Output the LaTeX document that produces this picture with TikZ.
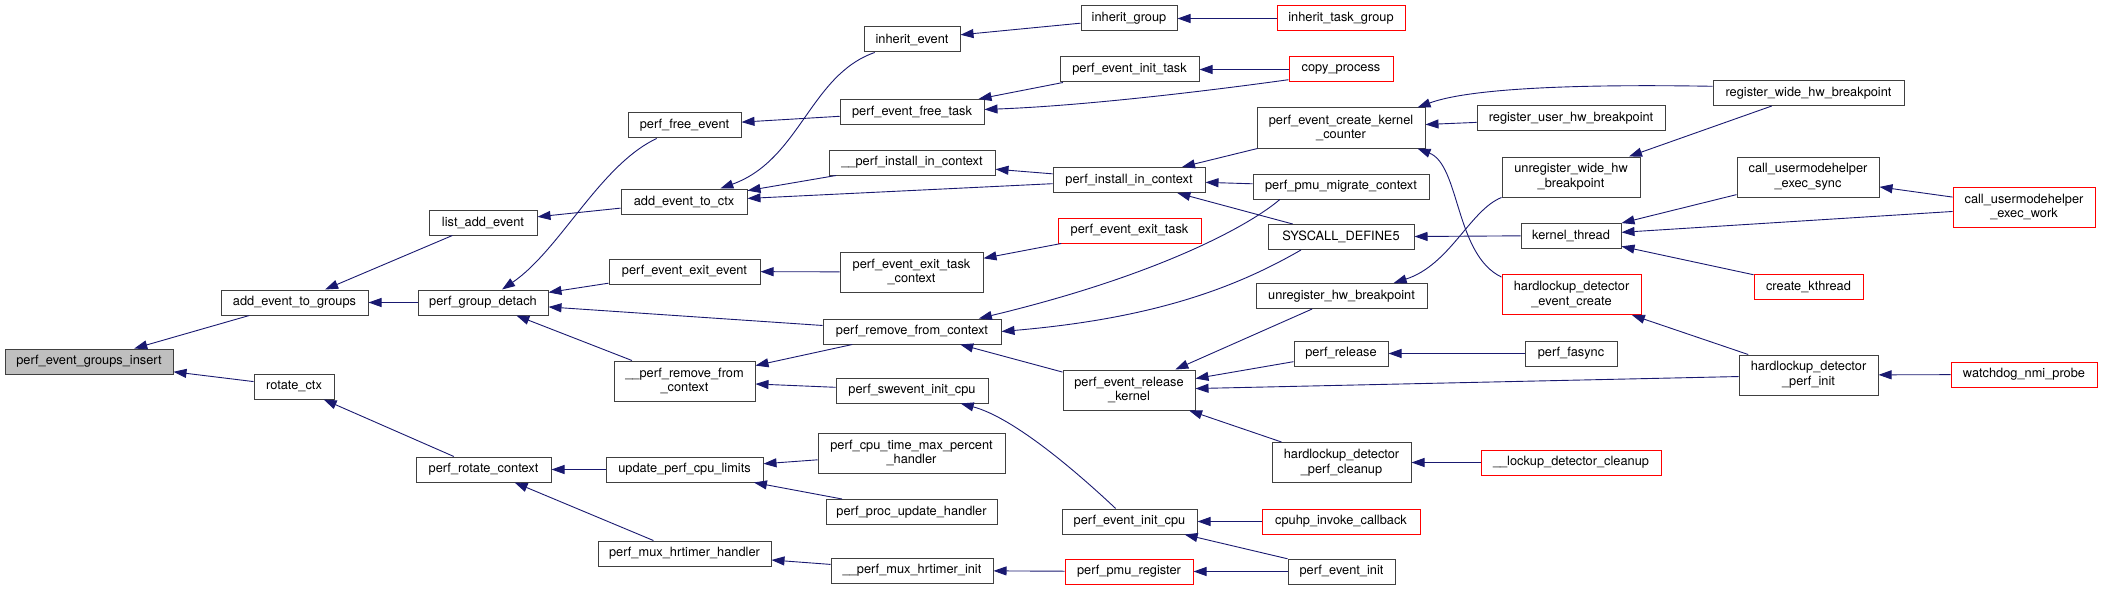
\documentclass[tikz,border=0pt]{standalone}
\usepackage{fontspec}
\setmainfont{TeX Gyre Heros}
\usepackage{xcolor}
\usepackage{tikz}
\usetikzlibrary{arrows.meta}
\definecolor{edgeblue}{RGB}{25,25,112}
\definecolor{boxline}{RGB}{64,64,64}
\newcommand{\fnfont}{\fontsize{12.8}{14.7}\selectfont}

\begin{document}
\begin{tikzpicture}[x=1pt,y=-1pt,
  fn/.style={draw=boxline, fill=white, line width=1pt, minimum height=25pt, inner sep=1pt, align=center, font=\fnfont},
  fn2/.style={fn, minimum height=40pt},
  wd/.style={minimum width=#1},
  undoc/.style={draw=red},
  root/.style={fill=black!25},
  call/.style={draw=edgeblue, line width=0.9pt, {Triangle[length=13pt,width=9pt]}-}]
\useasboundingbox (0,0) rectangle (2103,591);

\node[fn, root, wd=168] (insert) at (89,361.5) {perf\_event\_groups\_insert};
\node[fn, wd=147] (groups) at (294.5,302.5) {add\_event\_to\_groups};
\node[fn, wd=80] (rotate) at (294,386.5) {rotate\_ctx};
\node[fn, wd=108] (listadd) at (483,222.5) {list\_add\_event};
\node[fn, wd=130] (detach) at (483,302.5) {perf\_group\_detach};
\node[fn, wd=135] (rotatectx) at (483.5,469.5) {perf\_rotate\_context};
\node[fn, wd=113] (freeev) at (684.5,125.5) {perf\_free\_event};
\node[fn, wd=126] (addctx) at (684,201.5) {add\_event\_to\_ctx};
\node[fn, wd=151] (exitev) at (684.5,271.5) {perf\_event\_exit\_event};
\node[fn2, wd=141] (uremove) at (684.5,381) {\_\_perf\_remove\_from\\\_context};
\node[fn, wd=157] (cpulimits) at (684.5,469.5) {update\_perf\_cpu\_limits};
\node[fn, wd=173] (muxhandler) at (684.5,553.5) {perf\_mux\_hrtimer\_handler};
\node[fn, wd=96] (inhevent) at (912,39.5) {inherit\_event};
\node[fn, wd=144] (freetask) at (912,112) {perf\_event\_free\_task};
\node[fn, wd=166] (uinstall) at (912,162.5) {\_\_perf\_install\_in\_context};
\node[fn2, wd=143] (exitctx) at (911.5,272) {perf\_event\_exit\_task\\\_context};
\node[fn, wd=178] (remove) at (912,331.5) {perf\_remove\_from\_context};
\node[fn, wd=152] (swevent) at (912,390.5) {perf\_swevent\_init\_cpu};
\node[fn2, wd=187] (cputime) at (911.5,453) {perf\_cpu\_time\_max\_percent\\\_handler};
\node[fn, wd=171] (procupd) at (911.5,512) {perf\_proc\_update\_handler};
\node[fn, wd=162] (muxinit) at (912,570.5) {\_\_perf\_mux\_hrtimer\_init};
\node[fn, wd=96] (inhgroup) at (1129,18.5) {inherit\_group};
\node[fn, wd=139] (inittask) at (1129.5,69.5) {perf\_event\_init\_task};
\node[fn, wd=152] (install) at (1129,180) {perf\_install\_in\_context};
\node[fn, undoc, wd=143] (exittask) at (1129.5,230.5) {perf\_event\_exit\_task};
\node[fn2, wd=132] (release) at (1129,390) {perf\_event\_release\\\_kernel};
\node[fn, wd=135] (initcpu) at (1129.5,521.5) {perf\_event\_init\_cpu};
\node[fn, undoc, wd=128] (pmureg) at (1129,571.5) {perf\_pmu\_register};
\node[fn, undoc, wd=128] (inhtask) at (1341,18.5) {inherit\_task\_group};
\node[fn, undoc, wd=104] (copyproc) at (1341,69.5) {copy\_process};
\node[fn2, wd=168] (createkc) at (1341,128) {perf\_event\_create\_kernel\\\_counter};
\node[fn, wd=176] (migrate) at (1341,186.5) {perf\_pmu\_migrate\_context};
\node[fn, wd=146] (syscall) at (1341,237) {SYSCALL\_DEFINE5};
\node[fn, wd=171] (unreghw) at (1341.5,296) {unregister\_hw\_breakpoint};
\node[fn, wd=94] (perfrel) at (1341,353.5) {perf\_release};
\node[fn2, wd=139] (hdcleanup) at (1341.5,462.5) {hardlockup\_detector\\\_perf\_cleanup};
\node[fn, undoc, wd=158] (cpuhp) at (1341,521.5) {cpuhp\_invoke\_callback};
\node[fn, wd=107] (eventinit) at (1341.5,571.5) {perf\_event\_init};
\node[fn, wd=188] (reguser) at (1571,118.5) {register\_user\_hw\_breakpoint};
\node[fn2, wd=138] (unregwide) at (1571,177) {unregister\_wide\_hw\\\_breakpoint};
\node[fn, wd=100] (kthread) at (1571,235.5) {kernel\_thread};
\node[fn2, undoc, wd=139] (hdcreate) at (1571.5,294.5) {hardlockup\_detector\\\_event\_create};
\node[fn, wd=92] (fasync) at (1571,353.5) {perf\_fasync};
\node[fn, undoc, wd=180] (lockup) at (1571,462.5) {\_\_lockup\_detector\_cleanup};
\node[fn, wd=191] (regwide) at (1808.5,93) {register\_wide\_hw\_breakpoint};
\node[fn2, wd=142] (umhsync) at (1808,177) {call\_usermodehelper\\\_exec\_sync};
\node[fn, undoc, wd=109] (kcreate) at (1808.5,286.5) {create\_kthread};
\node[fn2, wd=139] (hdinit) at (1808.5,375) {hardlockup\_detector\\\_perf\_init};
\node[fn2, undoc, wd=142] (umhwork) at (2024,207) {call\_usermodehelper\\\_exec\_work};
\node[fn, undoc, wd=146] (watchdog) at (2024,374.5) {watchdog\_nmi\_probe};

\draw[call] (insert) -- (groups);
\draw[call] (insert) -- (rotate);
\draw[call] (groups) -- (listadd);
\draw[call] (groups) -- (detach);
\draw[call] (rotate) -- (rotatectx);
\draw[call] (listadd) -- (addctx);
\draw[call] (detach) .. controls (560,250) and (600,165) .. (freeev);
\draw[call] (detach) -- (exitev);
\draw[call] (detach) -- (remove);
\draw[call] (detach) -- (uremove);
\draw[call] (rotatectx) -- (cpulimits);
\draw[call] (rotatectx) -- (muxhandler);
\draw[call] (addctx) .. controls (800,160) and (810,75) .. (inhevent);
\draw[call] (addctx) -- (uinstall);
\draw[call] (addctx) -- (install);
\draw[call] (freeev) -- (freetask);
\draw[call] (exitev) -- (exitctx);
\draw[call] (uremove) -- (remove);
\draw[call] (uremove) -- (swevent);
\draw[call] (cpulimits) -- (cputime);
\draw[call] (cpulimits) -- (procupd);
\draw[call] (muxhandler) -- (muxinit);
\draw[call] (inhevent) -- (inhgroup);
\draw[call] (freetask) -- (inittask);
\draw[call] (freetask.2) .. controls (1080,106) and (1200,92) .. (copyproc.191);
\draw[call] (uinstall) -- (install);
\draw[call] (exitctx) -- (exittask);
\draw[call] (remove.11) .. controls (1160,275) and (1250,225) .. (migrate.192);
\draw[call] (remove.east) .. controls (1160,318) and (1240,285) .. (syscall.198);
\draw[call] (remove) -- (release);
\draw[call] (swevent) .. controls (1015,418) and (1080,475) .. (initcpu);
\draw[call] (muxinit) -- (pmureg);
\draw[call] (inhgroup) -- (inhtask);
\draw[call] (inittask) -- (copyproc);
\draw[call] (install) -- (createkc);
\draw[call] (install) -- (migrate);
\draw[call] (install) -- (syscall);
\draw[call] (release) -- (unreghw);
\draw[call] (release) -- (perfrel);
\draw[call] (release) -- (hdinit);
\draw[call] (release) -- (hdcleanup);
\draw[call] (initcpu) -- (cpuhp);
\draw[call] (initcpu) -- (eventinit);
\draw[call] (pmureg) -- (eventinit);
\draw[call] (createkc.15) .. controls (1470,88) and (1580,84) .. (regwide.176);
\draw[call] (createkc) -- (reguser);
\draw[call] (createkc.-15) .. controls (1460,165) and (1455,255) .. (hdcreate.166);
\draw[call] (syscall) -- (kthread);
\draw[call] (unreghw.14) .. controls (1450,265) and (1470,210) .. (unregwide.south west);
\draw[call] (perfrel) -- (fasync);
\draw[call] (hdcleanup) -- (lockup);
\draw[call] (unregwide) -- (regwide);
\draw[call] (kthread) -- (umhsync);
\draw[call] (kthread) -- (umhwork);
\draw[call] (kthread) -- (kcreate);
\draw[call] (hdcreate) -- (hdinit);
\draw[call] (hdinit) -- (watchdog);
\draw[call] (umhsync) -- (umhwork);
\end{tikzpicture}
\end{document}
